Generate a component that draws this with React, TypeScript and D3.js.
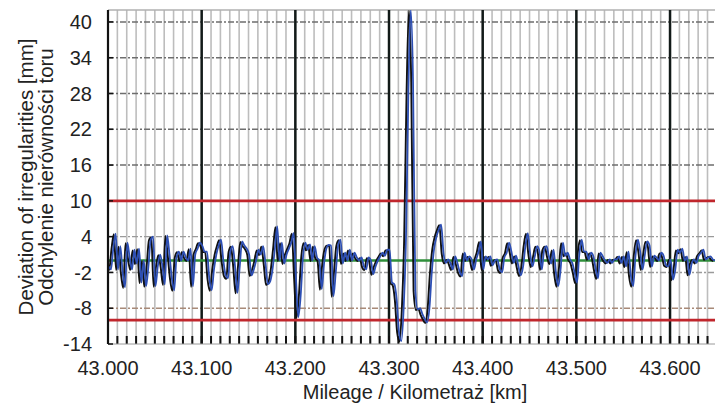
import React, { useEffect, useRef } from "react";
import * as d3 from "d3";

const yTicks = [-14, -8, -2, 4, 10, 16, 22, 28, 34, 40];
const xTicks = [43.0, 43.1, 43.2, 43.3, 43.4, 43.5, 43.6];
const limitLines = [10, -10];
const startKm = 43.0;
const stepKm = 0.0025;
// deviation [mm], one sample every 2.5 m
const deviation = [
  -1, -1.5, 2, 4.5, -1.5, 2.4, -2, -4.5, 3, 0.5,
  -1.5, 1.8, -0.5, 2, -3.7, 0, -4.3, -1, 3.5, 4,
  -4.3, -1, 1, -1, -4, 4.2, 1, -3, -5, 0.5,
  1.5, 0, 1.5, 0.5, 0, 2, -4.3, 1, 2, 3,
  2.5, 1.5, 1.5, -3, -5, -1.5, 1, 2.5, 3.5, 0,
  -2.5, -3, 1.5, 2.4, -1, -5.4, -1, 3.2, 2.5, 2,
  1, -2.5, -1.5, 0, 1.8, 1, 2.4, -0.5, -4, -3.5,
  -1.5, 2, 5.7, 0, 3, -0.5, 1, 2, 3, 4.6,
  -3, -9.5, -6, 0.5, 3, 1.8, 2.7, 0, 2.4, 0.5,
  0, -4.8, -0.5, 2, 2.6, 2.5, -6, -2, 2.5, 3.5,
  -0.5, 1.3, 0, 1.8, 0, 1.3, 0.5, 0, 0.5, -1,
  -1.5, 0.5, 0, -2.3, -1, 0, 0.7, 1.3, 0.8, 1.8,
  1.8, -3.7, -4, -6.5, -12, -13.5, -8, 4, 28, 42,
  30, -5, -8.2, -8, -9, -9.8, -10.4, -8, -2, 2,
  4, 5.2, 6, 1.3, -0.4, 0.2, -0.5, -1.5, 0.7, -0.5,
  -2, -2.6, 1.3, 0, 0.7, 0.2, -1.5, 0.2, 1.5, 3.2,
  -1.5, 0.7, 0.2, 0.7, -0.8, 0, 0.2, -1.5, -2, 0.5,
  1.3, 3, 1.5, -0.4, 0.8, -1, -2.5, -1, 2.5, 4.6,
  1.2, -1, 0.7, 2.4, 1.5, -1.5, 1.8, 2.4, 0.7, -0.5,
  1.8, -2, -4.3, -1.5, 3, 0.8, 1.3, 0.2, -0.4, -2,
  -3.7, 1, 3.5, 1.5, 1.5, 0.2, 1.3, 0.7, -1.5, -3,
  1.3, 0.7, 0, -0.4, 0.2, -0.4, 0.2, 0.2, 0.7, -0.4,
  0.7, -1, 1.5, -2.5, -4.3, 0.8, 3.5, 1.5, -1.5, 1,
  3.2, 2.5, -1, 0.8, 0.5, 0, 1.3, 0.8, -0.8, -1,
  0.2, -3.2, -1.5, 1.8, 1.3, 2, 0, 0.7, -2.4, -0.5,
  0.2, -0.4, 0.8, 1.3, 1.8, 0.2, 0.5, 0.7, 0.2, 0,
];

const font = "'Liberation Sans', Arial, sans-serif";

const App = () => {
  const chart = useRef<SVGSVGElement>(null);

  useEffect(() => {
    const width = 718;
    const height = 407;
    const margin = { top: 10, right: 3, bottom: 63, left: 108 };

    const svg = d3.select(chart.current);
    svg.selectAll("*").remove();

    const x = d3
      .scaleLinear()
      .domain([43.0, 43.648])
      .range([margin.left, width - margin.right]);
    const y = d3
      .scaleLinear()
      .domain([-14, 42])
      .range([height - margin.bottom, margin.top]);

    const x0 = x.range()[0];
    const x1 = x.range()[1];
    const yTop = y.range()[1];
    const yBot = y.range()[0];

    svg
      .append("defs")
      .append("clipPath")
      .attr("id", "plot")
      .append("rect")
      .attr("x", x0)
      .attr("y", yTop)
      .attr("width", x1 - x0)
      .attr("height", yBot - yTop);

    const minor = d3.range(1, 65).map((i) => 43 + i * 0.01);

    // minor verticals
    svg
      .append("g")
      .selectAll("line")
      .data(minor)
      .join("line")
      .attr("x1", (d) => x(d))
      .attr("x2", (d) => x(d))
      .attr("y1", yTop)
      .attr("y2", yBot)
      .attr("stroke", "#bdbdbd")
      .attr("stroke-width", 1.6);

    // horizontal grid
    svg
      .append("g")
      .selectAll("line")
      .data(yTicks.filter((d) => d > -14))
      .join("line")
      .attr("x1", x0)
      .attr("x2", x1)
      .attr("y1", (d) => y(d))
      .attr("y2", (d) => y(d))
      .attr("stroke", (d) => (d === -8 ? "#a88a78" : d < 10 ? "#9a9a9a" : "#6e6e6e"))
      .attr("stroke-width", 1.4)
      .attr("stroke-dasharray", "6,2,2,2");

    // top border
    svg
      .append("line")
      .attr("x1", x0)
      .attr("x2", x1)
      .attr("y1", yTop)
      .attr("y2", yTop)
      .attr("stroke", "#b0b0b0")
      .attr("stroke-width", 1.5);

    // major verticals
    svg
      .append("g")
      .selectAll("line")
      .data(xTicks.slice(1))
      .join("line")
      .attr("x1", (d) => x(d))
      .attr("x2", (d) => x(d))
      .attr("y1", yTop)
      .attr("y2", yBot)
      .attr("stroke", "#121a18")
      .attr("stroke-width", 2.5);

    // bottom tick marks
    svg
      .append("g")
      .selectAll("line")
      .data(minor)
      .join("line")
      .attr("x1", (d) => x(d))
      .attr("x2", (d) => x(d))
      .attr("y1", yBot - 8)
      .attr("y2", yBot)
      .attr("stroke", "#111")
      .attr("stroke-width", 2);

    svg
      .append("line")
      .attr("x1", x0)
      .attr("x2", x1)
      .attr("y1", yBot)
      .attr("y2", yBot)
      .attr("stroke", "#9a9a9a")
      .attr("stroke-width", 1);

    // zero line
    svg
      .append("line")
      .attr("x1", x0)
      .attr("x2", x1)
      .attr("y1", y(0))
      .attr("y2", y(0))
      .attr("stroke", "#2f8f3a")
      .attr("stroke-width", 2.4);

    // limit lines
    svg
      .append("g")
      .selectAll("line")
      .data(limitLines)
      .join("line")
      .attr("x1", x0)
      .attr("x2", x1)
      .attr("y1", (d) => y(d))
      .attr("y2", (d) => y(d))
      .attr("stroke", "#c0262c")
      .attr("stroke-width", 2.6);

    // signal
    const line = d3
      .line<number>()
      .x((d, i) => x(startKm + i * stepKm))
      .y((d) => y(d))
      .curve(d3.curveMonotoneX);

    const trace = svg.append("g").attr("clip-path", "url(#plot)");
    trace
      .append("path")
      .attr("d", line(deviation))
      .attr("fill", "none")
      .attr("stroke", "#111")
      .attr("stroke-width", 1.9)
      .attr("transform", "translate(-1.2,0.6)");
    trace
      .append("path")
      .attr("d", line(deviation))
      .attr("fill", "none")
      .attr("stroke", "#2d4fb4")
      .attr("stroke-width", 1.8)
      .attr("transform", "translate(0.6,0)");

    // left axis
    svg
      .append("line")
      .attr("x1", x0)
      .attr("x2", x0)
      .attr("y1", yTop)
      .attr("y2", yBot)
      .attr("stroke", "#111")
      .attr("stroke-width", 2.2);
    svg
      .append("g")
      .selectAll("line")
      .data(yTicks)
      .join("line")
      .attr("x1", x0)
      .attr("x2", x0 + 5)
      .attr("y1", (d) => y(d))
      .attr("y2", (d) => y(d))
      .attr("stroke", "#111")
      .attr("stroke-width", 1.5);

    // tick labels
    svg
      .append("g")
      .selectAll("text")
      .data(yTicks)
      .join("text")
      .attr("x", 92)
      .attr("y", (d) => y(d))
      .attr("dy", "0.36em")
      .attr("text-anchor", "end")
      .attr("font-family", font)
      .attr("font-size", 20)
      .attr("fill", "#222")
      .text((d) => d);

    svg
      .append("g")
      .selectAll("text")
      .data(xTicks)
      .join("text")
      .attr("x", (d) => x(d))
      .attr("y", 375)
      .attr("text-anchor", "middle")
      .attr("font-family", font)
      .attr("font-size", 20)
      .attr("fill", "#222")
      .text((d) => d3.format(".3f")(d));

    svg
      .append("text")
      .attr("x", 415)
      .attr("y", 399)
      .attr("text-anchor", "middle")
      .attr("font-family", font)
      .attr("font-size", 20)
      .attr("fill", "#222")
      .text("Mileage / Kilometraż [km]");

    const yTitle = svg
      .append("g")
      .attr("transform", `translate(0,${(yTop + yBot) / 2}) rotate(-90)`)
      .attr("font-family", font)
      .attr("font-size", 20.5)
      .attr("fill", "#222")
      .attr("text-anchor", "middle");
    yTitle.append("text").attr("x", 0).attr("y", 33).text("Deviation of irregularities [mm]");
    yTitle.append("text").attr("x", 0).attr("y", 53).text("Odchylenie nierówności toru");
  }, []);

  return (
    <svg
      ref={chart}
      width={718}
      height={407}
      style={{ position: "absolute", left: 0, top: 0, background: "#fff" }}
    ></svg>
  );
};

export default App;
